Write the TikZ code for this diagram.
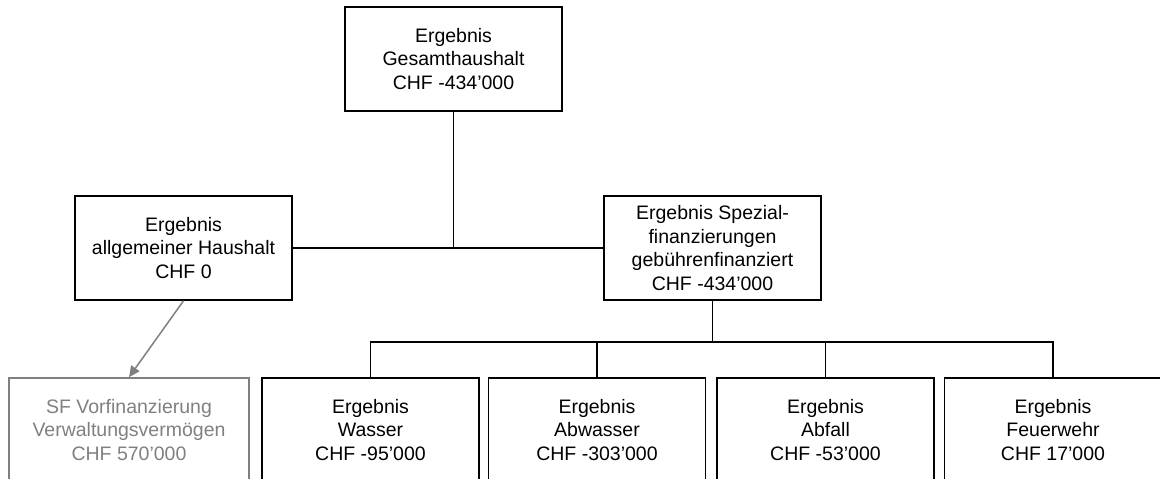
\documentclass[tikz,border=0pt]{standalone}
\usepackage{fontspec}
\setmainfont{Liberation Sans}
\usetikzlibrary{arrows.meta}
\definecolor{sfgrey}{RGB}{128,128,128}
\begin{document}
\begin{tikzpicture}[x=1pt,y=-1pt,
  box/.style={draw=black,line width=1.6pt,minimum width=217pt,minimum height=104pt,inner sep=0pt,align=center,
    font=\fontsize{19.5}{23.5}\selectfont},
  greybox/.style={box,draw=sfgrey,text=sfgrey,minimum width=240pt},
  conn/.style={line width=1.6pt},
  greyarrow/.style={draw=sfgrey,line width=1.5pt,-{Triangle[length=11pt,width=10pt]},fill=sfgrey}]
\useasboundingbox (0,0) rectangle (1160,479);
\clip (0,0) rectangle (1160,479);
\node[box] (top) at (453.5,59) {Ergebnis\\Gesamthaushalt\\CHF -434’000};
\node[box] (allg) at (183.5,248) {Ergebnis\\allgemeiner Haushalt\\CHF 0};
\node[box] (spez) at (712.5,248) {Ergebnis Spezial-\\finanzierungen\\gebührenfinanziert\\CHF -434’000};
\node[greybox] (sf) at (129,430) {SF Vorfinanzierung\\Verwaltungsvermögen\\CHF 570’000};
\node[box] (wasser) at (370.5,430) {Ergebnis\\Wasser\\CHF -95’000};
\node[box] (abw) at (597,430) {Ergebnis\\Abwasser\\CHF -303’000};
\node[box] (abf) at (825.5,430) {Ergebnis\\Abfall\\CHF -53’000};
\node[box] (feu) at (1053,430) {Ergebnis\\Feuerwehr\\CHF 17’000};
\draw[conn] (top.south) -- (top.south |- allg.east);
\draw[conn] (allg.east) -- (spez.west);
\coordinate (bus) at (712.5,342);
\draw[conn] (spez.south) -- (bus);
\draw[conn] (wasser.north) -- (wasser.north |- bus) -- (feu.north |- bus) -- (feu.north);
\draw[conn] (abw.north) -- (abw.north |- bus);
\draw[conn] (abf.north) -- (abf.north |- bus);
\draw[greyarrow] (allg.south) -- (sf.north);
\end{tikzpicture}
\end{document}
